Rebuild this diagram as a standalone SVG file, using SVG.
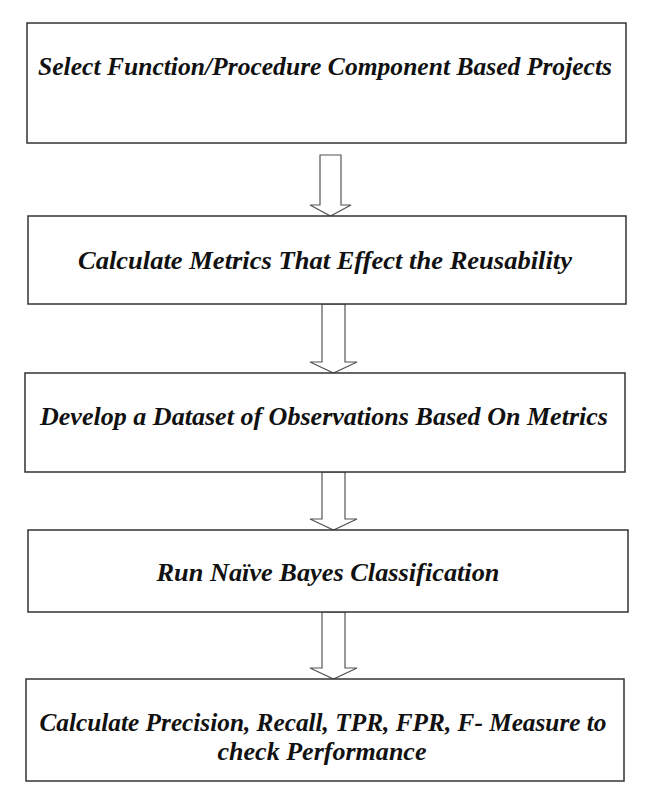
<svg xmlns="http://www.w3.org/2000/svg" width="647" height="803" viewBox="0 0 647 803">
<style>
.box{fill:#fff;stroke:#333;stroke-width:1.5}
.arr{fill:#fff;stroke:#555;stroke-width:1.2;stroke-linejoin:miter}
.t{font-family:"Liberation Serif","Times New Roman",serif;font-weight:bold;font-style:italic;font-size:26px;fill:#111;text-anchor:middle}
</style>
<rect width="647" height="803" fill="#fff"/>
<g id="connectors">
<path class="arr" d="M320,155 L341,155 L341,205 L351,205 L330.5,216 L310,205 L320,205 Z"/>
<path class="arr" d="M322,304 L345,304 L345,362 L357,362 L333.5,373 L310,362 L322,362 Z"/>
<path class="arr" d="M322,472 L345,472 L345,519 L357,519 L333.5,530 L310,519 L322,519 Z"/>
<path class="arr" d="M322,612 L345,612 L345,668 L357,668 L333.5,679 L310,668 L322,668 Z"/>
</g>
<g id="n1"><rect class="box" x="27" y="23" width="599" height="120"/>
<text class="t" x="325" y="75" textLength="574" lengthAdjust="spacingAndGlyphs">Select Function/Procedure Component Based Projects</text></g>
<g id="n2"><rect class="box" x="28" y="216" width="598" height="88"/>
<text class="t" x="325" y="269" textLength="494" lengthAdjust="spacingAndGlyphs">Calculate Metrics That Effect the Reusability</text></g>
<g id="n3"><rect class="box" x="25" y="373" width="600" height="99"/>
<text class="t" x="324" y="425" textLength="568" lengthAdjust="spacingAndGlyphs">Develop a Dataset of Observations Based On Metrics</text></g>
<g id="n4"><rect class="box" x="28" y="530" width="600" height="82"/>
<text class="t" x="328" y="581" textLength="343" lengthAdjust="spacingAndGlyphs">Run Naïve Bayes Classification</text></g>
<g id="n5"><rect class="box" x="26" y="679" width="598" height="102"/>
<text class="t" x="323" y="731" textLength="567" lengthAdjust="spacingAndGlyphs">Calculate Precision, Recall, TPR, FPR, F- Measure to</text>
<text class="t" x="322" y="760" textLength="209" lengthAdjust="spacingAndGlyphs">check Performance</text></g>
</svg>
